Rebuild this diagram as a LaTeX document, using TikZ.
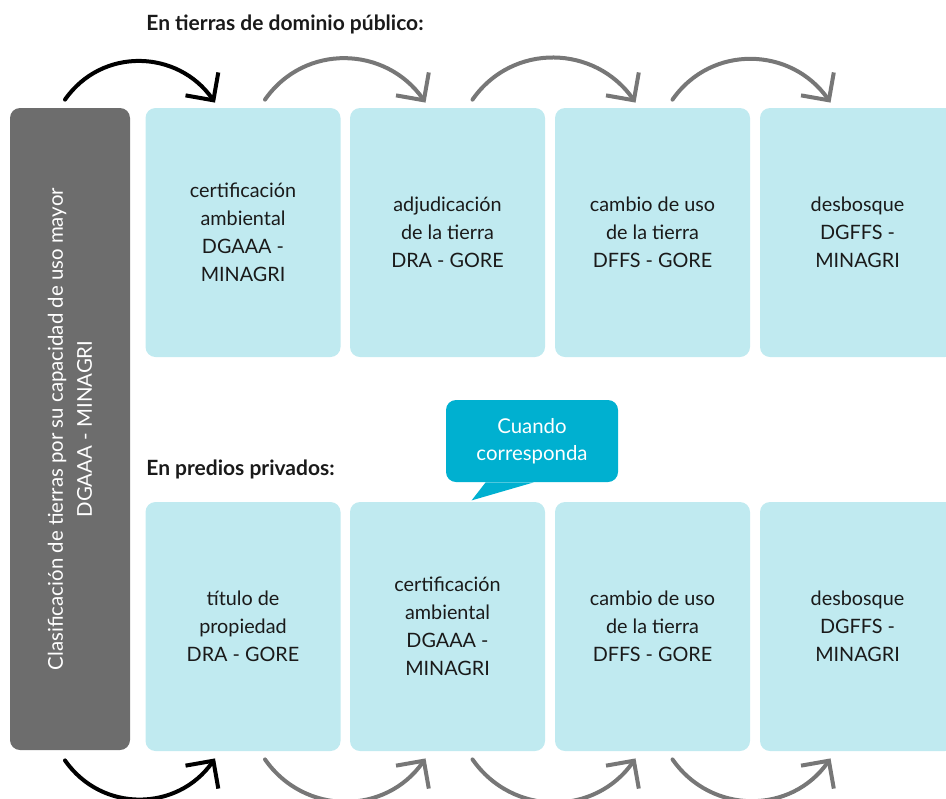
\documentclass[tikz,border=0pt]{standalone}
\usepackage{fontspec}
\setmainfont{Lato}
\usetikzlibrary{arrows.meta, positioning}
\definecolor{boxcyan}{RGB}{192,234,240}
\definecolor{sidegray}{RGB}{109,109,109}
\definecolor{arcgray}{RGB}{119,119,119}
\definecolor{calloutblue}{RGB}{0,176,208}
\definecolor{textdark}{RGB}{26,26,26}

\tikzset{
	stepbox/.style={fill=boxcyan, rounded corners=5pt, minimum width=97.5pt, minimum height=124.5pt,
		inner sep=0pt, align=center, text=textdark, font=\fontsize{9.9}{14}\selectfont},
	sidebox/.style={fill=sidegray, rounded corners=5pt, minimum width=60pt, minimum height=321pt, inner sep=0pt},
	heading/.style={anchor=west, inner sep=0pt, text=textdark, font=\bfseries\fontsize{10.5}{12}\selectfont},
	arcblack/.style={draw=black, line width=2pt, line cap=round, -{Straight Barb[length=10pt, width=20pt, line width=2pt]}},
	arcgrey/.style={arcblack, draw=arcgray},
	bubble/.style={fill=calloutblue, rounded corners=5pt, minimum width=86pt, minimum height=41pt,
		inner sep=0pt, align=center, text=white, font=\fontsize{10.2}{13.5}\selectfont}
}

\begin{document}
\begin{tikzpicture}[x=0.5pt, y=0.5pt]
	\clip (0,0) rectangle (946,-798);
	\draw (0,0) (946,-798);

	\node[sidebox] (side) at (70,-429) {};
	\node[rotate=90, align=center, text=white, font=\fontsize{10.2}{14.5}\selectfont] (sidetxt) at (side.center)
		{Clasificación de tierras por su capacidad de uso mayor\\DGAAA - MINAGRI};

	\node[heading] (pub) at (146,-24) {En tierras de dominio público:};
	\node[heading] (priv) at (146,-469) {En predios privados:};

	% dominio publico
	\node[stepbox] (t1) at (243,-232.5) {certificación\\ambiental\\DGAAA -\\MINAGRI};
	\node[stepbox] (t2) at (447.5,-232.5) {adjudicación\\de la tierra\\DRA - GORE};
	\node[stepbox] (t3) at (652.5,-232.5) {cambio de uso\\de la tierra\\DFFS - GORE};
	\node[stepbox] (t4) at (857.5,-232.5) {desbosque\\DGFFS -\\MINAGRI};

	% predios privados
	\node[stepbox] (b1) at (243,-626.5) {título de\\propiedad\\DRA - GORE};
	\node[stepbox] (b2) at (447.5,-626.5) {certificación\\ambiental\\DGAAA -\\MINAGRI};
	\node[stepbox] (b3) at (652.5,-626.5) {cambio de uso\\de la tierra\\DFFS - GORE};
	\node[stepbox] (b4) at (857.5,-626.5) {desbosque\\DGFFS -\\MINAGRI};

	\node[bubble] (note) at (532,-441) {Cuando\\corresponda};
	\fill[calloutblue] ([xshift=20]note.south west) -- ([xshift=44]note.south west)
		-- ([shift={(26,-18)}]note.south west) -- cycle;

	\draw[arcblack] ([shift={(-5,8)}]side.north) to[out=55,in=125,looseness=1.1] ([shift={(-28,5)}]t1.north);
	\draw[arcgrey] ([shift={(22,8)}]t1.north) to[out=55,in=125,looseness=1.1] ([shift={(-22,5)}]t2.north);
	\draw[arcgrey] ([shift={(25,8)}]t2.north) to[out=55,in=125,looseness=1.1] ([shift={(-17,5)}]t3.north);
	\draw[arcgrey] ([shift={(20,8)}]t3.north) to[out=55,in=125,looseness=1.1] ([shift={(-27,5)}]t4.north);

	\draw[arcblack] ([shift={(-5,-10)}]side.south) to[out=-55,in=-125,looseness=1.1] ([shift={(-28,-7)}]b1.south);
	\draw[arcgrey] ([shift={(22,-8)}]b1.south) to[out=-55,in=-125,looseness=1.1] ([shift={(-22,-7)}]b2.south);
	\draw[arcgrey] ([shift={(25,-8)}]b2.south) to[out=-55,in=-125,looseness=1.1] ([shift={(-17,-7)}]b3.south);
	\draw[arcgrey] ([shift={(20,-8)}]b3.south) to[out=-55,in=-125,looseness=1.1] ([shift={(-27,-7)}]b4.south);
\end{tikzpicture}
\end{document}
